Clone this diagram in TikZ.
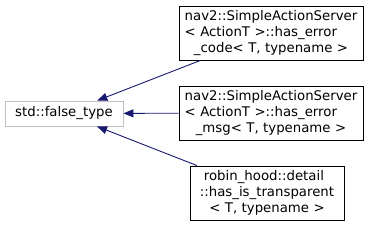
\documentclass[tikz,border=0pt]{standalone}
\usepackage{fontspec}
\usepackage{calc}
\setmainfont{DejaVu Sans}
\usetikzlibrary{arrows.meta}
\definecolor{edgeblue}{HTML}{191970}
\definecolor{basegray}{HTML}{BFBFBF}
% line set flush left under a wider reference line
\newcommand{\flushline}[3][0pt]{\makebox[\widthof{#2}][l]{\hspace{#1}#3}}

\begin{document}
\begin{tikzpicture}[
    x=1pt, y=1pt,
    >={Triangle[length=10pt, width=8pt]},
    class box/.style={draw=black, fill=white, line width=0.9pt,
        font=\fontsize{13.3}{16}\selectfont, align=center,
        inner sep=0pt, minimum height=54pt, text width=#1},
    base box/.style={draw=basegray, fill=white, line width=0.9pt,
        font=\fontsize{13.3}{16}\selectfont, align=center,
        inner sep=0pt, minimum height=25pt, minimum width=118pt},
    inherit/.style={draw=edgeblue, line width=0.9pt, <-},
]

% ══════════════════════════════════════════════════════════════════════
%  FRAME — picture is 368 x 227
% ══════════════════════════════════════════════════════════════════════
\useasboundingbox (0,0) rectangle (368,227);

% ── base class ────────────────────────────────────────────────────────
\node[base box] (falsetype) at (64,113.5) {std::false\_type};

% ── derived classes ───────────────────────────────────────────────────
\node[class box=184pt] (errcode) at (271,194)
    {nav2::SimpleActionServer\\
     \flushline{nav2::SimpleActionServer}{< ActionT >::has\_error}\\
     \_code< T, typename >};
\node[class box=184pt] (errmsg) at (271,114)
    {nav2::SimpleActionServer\\
     \flushline{nav2::SimpleActionServer}{< ActionT >::has\_error}\\
     \_msg< T, typename >};
\node[class box=154pt] (transparent) at (267,34)
    {\flushline[4pt]{::has\_is\_transparent}{robin\_hood::detail}\\
     ::has\_is\_transparent\\
     < T, typename >};

% ── inheritance edges ─────────────────────────────────────────────────
\draw[inherit] (falsetype) -- (errcode);
\draw[inherit] (falsetype) -- (errmsg);
\draw[inherit] (falsetype) -- (transparent);

\end{tikzpicture}
\end{document}
